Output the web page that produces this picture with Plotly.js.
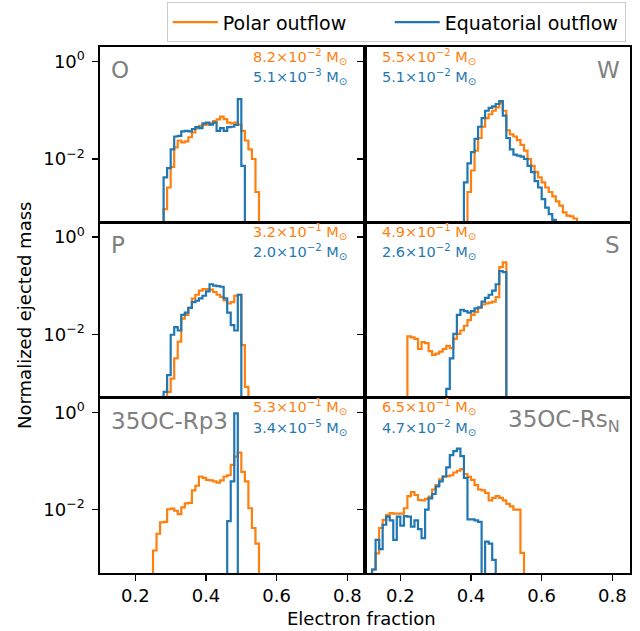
<!DOCTYPE html>
<html>
<head>
<meta charset="utf-8">
<script src="https://cdn.plot.ly/plotly-3.0.1.min.js"></script>
<style>html,body{margin:0;padding:0;background:#fff;}#chart{width:640px;height:631px;}</style>
</head>
<body>
<div id="chart"></div>
<script>
// ---- data (normalized ejected mass per Ye bin, bin width 0.01) ----
const BIN = 0.01;
const panelNames = ['O', 'W', 'P', 'S', '35OC-Rp3', '35OC-Rs<sub>N</sub>'];

// bin start (left edge of first listed bin) for each panel
const polarStart = [0.28, 0.39, 0.29, 0.22, 0.25, 0.12];
const equatStart = [0.28, 0.38, 0.28, 0.33, 0.46, 0.12];

const polarO = [0.00093,0.0026,0.0069,0.0174,0.024,0.022,0.023,0.028,0.035,0.043,0.048,0.050,0.051,0.054,0.060,0.065,0.074,0.066,0.056,0.054,0.056,0.051,0.038,0.024,0.0158,0.010,0.0021];
const equatO = [0.0042,0.0065,0.0158,0.029,0.030,0.037,0.038,0.037,0.041,0.045,0.043,0.054,0.056,0.051,0.056,0.038,0.043,0.038,0.045,0.046,0.050,0.17,0.0072];

const polarW = [0.0021,0.0058,0.0148,0.027,0.046,0.069,0.083,0.098,0.115,0.141,0.098,0.039,0.032,0.029,0.0245,0.0195,0.0148,0.010,0.0072,0.0054,0.0042,0.0033,0.0026,0.0021,0.0017,0.00135,0.0011,0.0008,0.00069,0.00066,0.00060];
const equatW = [0.0033,0.0081,0.0138,0.026,0.046,0.069,0.098,0.112,0.12,0.135,0.155,0.078,0.027,0.0158,0.0123,0.0117,0.0112,0.010,0.0072,0.0054,0.0035,0.0026,0.0015,0.001,0.00074,0.00056];

const polarP = [0.00066,0.00123,0.0032,0.0071,0.021,0.025,0.035,0.054,0.065,0.079,0.085,0.085,0.083,0.074,0.065,0.059,0.050,0.043,0.046,0.062,0.065,0.006,0.00083];
const equatP = [0.00066,0.00145,0.0098,0.0141,0.012,0.025,0.028,0.035,0.046,0.049,0.055,0.062,0.076,0.107,0.1,0.098,0.095,0.055,0.028,0.0155,0.012,0.065];

const polarS = [0.0091,0.0087,0.0081,0.005,0.0069,0.0066,0.0045,0.0038,0.004,0.0044,0.005,0.0058,0.0052,0.0081,0.0102,0.012,0.015,0.0195,0.025,0.029,0.035,0.041,0.043,0.045,0.047,0.058,0.24,0.30];
const equatS = [0.00076,0.0032,0.0102,0.025,0.032,0.030,0.028,0.030,0.034,0.036,0.047,0.056,0.065,0.079,0.107,0.20,0.19];

const polarRp3 = [0.00145,0.0032,0.0055,0.0056,0.0102,0.0105,0.0095,0.0081,0.0112,0.0135,0.0138,0.025,0.031,0.048,0.045,0.041,0.040,0.038,0.036,0.040,0.048,0.051,0.083,0.123,0.148,0.060,0.038,0.0107,0.0042,0.002];
const equatRp3 = [0.0058,0.038,0.95];

const polarRsN = [0.00059,0.00126,0.0042,0.0062,0.0078,0.0085,0.0083,0.0083,0.0083,0.0107,0.019,0.023,0.020,0.0158,0.0155,0.0166,0.0186,0.026,0.032,0.042,0.048,0.049,0.051,0.058,0.063,0.068,0.054,0.047,0.041,0.032,0.026,0.025,0.022,0.0155,0.0174,0.019,0.0174,0.0155,0.0132,0.0117,0.010,0.010,0.0013];
const equatRsN = [0.00059,0.0024,0.00155,0.0049,0.0072,0.006,0.0024,0.0072,0.0047,0.0074,0.0072,0.0045,0.006,0.004,0.0026,0.010,0.017,0.021,0.030,0.038,0.048,0.074,0.132,0.16,0.18,0.126,0.045,0.0063,0.0063,0.006,0.0056,0.0001,0.0022,0.002,0.00093];

const polarSeries = [polarO, polarW, polarP, polarS, polarRp3, polarRsN];
const equatSeries = [equatO, equatW, equatP, equatS, equatRp3, equatRsN];

// ejected masses (mantissa, exponent), in solar masses
const polarMassMant = ['8.2', '5.5', '3.2', '4.9', '5.3', '6.5'];
const polarMassExp  = [-2, -2, -1, -1, -1, -1];
const equatMassMant = ['5.1', '5.1', '2.0', '2.6', '3.4', '4.7'];
const equatMassExp  = [-3, -2, -2, -2, -5, -2];

const xTickVals = [0.2, 0.4, 0.6, 0.8];
const yTickVals = [1, 0.01];
const yTickText = ['10<sup>0</sup>', '10<sup>\u22122</sup>'];

// ---- styling ----
const ORANGE = '#ff7f0e', BLUE = '#1f77b4';
const FONT = 'DejaVu Sans, Verdana, sans-serif';
const BASELINE = 1e-7; // histogram baseline (zero) drawn below the visible log range

function stepTrace(start, vals, color, name, idx, showlegend, lw) {
  const xs = [start], ys = [BASELINE];
  for (let i = 0; i < vals.length; i++) { xs.push(start + i * BIN); ys.push(vals[i]); }
  xs.push(start + vals.length * BIN); ys.push(BASELINE);
  const s = idx === 0 ? '' : String(idx + 1);
  const t = {
    type: 'scatter', mode: 'lines', x: xs, y: ys,
    xaxis: 'x' + s, yaxis: 'y' + s,
    line: {shape: 'hv', color: color, width: 2.2},
    name: name, showlegend: showlegend, legendgroup: name,
    hoverinfo: 'skip'
  };
  if (showlegend) t.legendwidth = lw;
  return t;
}

const traces = [];
for (let p = 0; p < 6; p++) {
  traces.push(stepTrace(polarStart[p], polarSeries[p], ORANGE, 'Polar outflow', p, p === 0, 162));
}
for (let p = 0; p < 6; p++) {
  traces.push(stepTrace(equatStart[p], equatSeries[p], BLUE, 'Equatorial outflow', p, p === 0, 175));
}

const layout = {
  width: 640, height: 631,
  margin: {l: 100, r: 10, t: 47, b: 58, pad: 0, autoexpand: false},
  paper_bgcolor: '#fff', plot_bgcolor: '#fff',
  font: {family: FONT, size: 18, color: '#000'},
  showlegend: true,
  legend: {
    orientation: 'h', x: 0.992, xanchor: 'right', y: 1.0849, yanchor: 'top',
    bordercolor: '#cccccc', borderwidth: 1, bgcolor: '#fff',
    font: {family: FONT, size: 19, color: '#000'},
    traceorder: 'normal', itemwidth: 45
  },
  annotations: []
};

const colDom = [[0, 0.5], [0.5, 1]];
const rowDom = [[2/3, 1], [1/3, 2/3], [0, 1/3]];
for (let p = 0; p < 6; p++) {
  const r = Math.floor(p / 2), c = p % 2;
  const s = p === 0 ? '' : String(p + 1);
  layout['xaxis' + s] = {
    domain: colDom[c], anchor: 'y' + s, range: [0.1, 0.85],
    tickvals: xTickVals, ticktext: xTickVals.map(v => v.toFixed(1)),
    ticks: r === 2 ? 'outside' : '', ticklen: 6, tickwidth: 1.4, tickcolor: '#000',
    showticklabels: r === 2,
    tickfont: {family: FONT, size: 18, color: '#000'},
    showline: true, mirror: true, linecolor: '#000', linewidth: 1.6,
    showgrid: false, zeroline: false, fixedrange: true
  };
  layout['yaxis' + s] = {
    domain: rowDom[r], anchor: 'x' + s, type: 'log', range: [-3.301, 0.301],
    tickvals: yTickVals, ticktext: yTickText,
    ticks: 'outside', ticklen: 6, tickwidth: 1.4, tickcolor: '#000',
    showticklabels: c === 0, ticklabelstandoff: 4,
    tickfont: {family: FONT, size: 18, color: '#000'},
    showline: true, mirror: true, linecolor: '#000', linewidth: 1.6,
    showgrid: false, zeroline: false, fixedrange: true
  };

  const xr = 'x' + s + ' domain', yr = 'y' + s + ' domain';
  const leftCol = c === 0;
  // panel name
  layout.annotations.push({
    text: panelNames[p], xref: xr, yref: yr,
    x: leftCol ? 0.035 : 0.968, xanchor: leftCol ? 'left' : 'right',
    y: 0.868, yanchor: 'middle', showarrow: false,
    font: {family: FONT, size: 23, color: '#808080'}
  });
  // masses
  const mx = leftCol ? 0.94 : 0.057, ma = leftCol ? 'right' : 'left';
  layout.annotations.push({
    text: polarMassMant[p] + '\u00d710<sup>\u2212' + Math.abs(polarMassExp[p]) + '</sup> M<sub>\u2299</sub>',
    xref: xr, yref: yr, x: mx, xanchor: ma, y: 0.945, yanchor: 'middle', showarrow: false,
    font: {family: FONT, size: 14.5, color: ORANGE}
  });
  layout.annotations.push({
    text: equatMassMant[p] + '\u00d710<sup>\u2212' + Math.abs(equatMassExp[p]) + '</sup> M<sub>\u2299</sub>',
    xref: xr, yref: yr, x: mx, xanchor: ma, y: 0.828, yanchor: 'middle', showarrow: false,
    font: {family: FONT, size: 14.5, color: BLUE}
  });
}

// shared axis titles
layout.annotations.push({
  text: 'Electron fraction', xref: 'paper', yref: 'paper',
  x: 0.494, xanchor: 'center', y: -0.087, yanchor: 'middle', showarrow: false,
  font: {family: FONT, size: 18, color: '#000'}
});
layout.annotations.push({
  text: 'Normalized ejected mass', xref: 'paper', yref: 'paper',
  x: -0.142, xanchor: 'center', y: 0.49, yanchor: 'middle', textangle: -90, showarrow: false,
  font: {family: FONT, size: 18, color: '#000'}
});

Plotly.newPlot('chart', traces, layout, {displayModeBar: false, staticPlot: true});
</script>
</body>
</html>
